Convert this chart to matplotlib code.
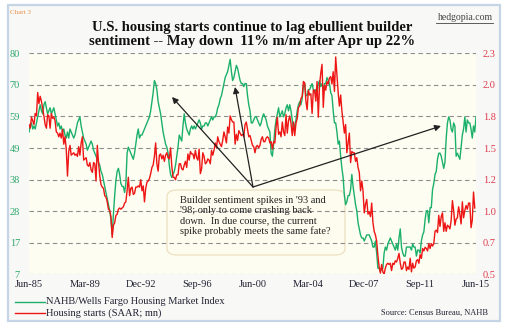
import matplotlib
matplotlib.use('Agg')
import matplotlib.pyplot as plt
import numpy as np
from matplotlib.patches import FancyBboxPatch, Rectangle
from matplotlib.lines import Line2D

# ---------------- data (monthly, Jun-1985 onward) ----------------
x_labels = ['Jun-85', 'Mar-89', 'Dec-92', 'Sep-96', 'Jun-00', 'Mar-04', 'Dec-07', 'Sep-11', 'Jun-15']
left_ticks = [7, 17, 28, 38, 49, 59, 70, 80]
right_ticks = ['0.5', '0.7', '1.0', '1.2', '1.5', '1.8', '2.0', '2.3']

# NAHB/Wells Fargo Housing Market Index, Jun-1985 .. Jun-2015
hmi = [
    54, 56, 57, 55, 56, 55, 57,                              # 1985 Jun-Dec
    59, 61, 63, 61, 60, 63, 64, 62, 60, 61, 62, 60,          # 1986
    61, 62, 60, 58, 56, 57, 55, 56, 54, 55, 53, 52,          # 1987
    54, 52, 55, 54, 53, 52, 53, 55, 57, 58, 59, 56,          # 1988
    54, 52, 51, 50, 48, 49, 50, 51, 50, 48, 47, 46,          # 1989
    45, 44, 43, 41, 40, 38, 36, 34, 32, 30, 28, 25,          # 1990
    20, 27, 33, 38, 41, 42, 40, 37, 36, 36, 34, 37,          # 1991
    47, 49, 48, 47, 46, 45, 47, 50, 53, 55, 52, 53,          # 1992
    53, 54, 55, 56, 57, 58, 59, 61, 64, 67, 71, 70,          # 1993
    68, 64, 62, 60, 57, 54, 52, 50, 49, 47, 43, 40,          # 1994
    39, 40, 41, 43, 46, 49, 53, 52, 51, 56, 60, 57,          # 1995
    55, 54, 53, 55, 56, 55, 56, 55, 56, 57, 58, 57,          # 1996
    55, 56, 56, 57, 57, 56, 57, 58, 59, 58, 59, 59,          # 1997
    60, 62, 63, 65, 66, 68, 70, 72, 73, 74, 76, 78,          # 1998
    74, 71, 72, 74, 76, 75, 73, 71, 70, 70, 69, 70,          # 1999
    70, 66, 63, 61, 57, 57, 58, 59, 59, 58, 57, 56,          # 2000
    57, 59, 60, 59, 58, 56, 55, 54, 47, 46, 50, 55,          # 2001
    58, 60, 62, 59, 60, 61, 59, 60, 62, 63, 61, 63,          # 2002
    61, 58, 55, 56, 58, 61, 63, 64, 63, 65, 69, 70,          # 2003
    66, 66, 68, 68, 69, 70, 68, 67, 68, 67, 70, 71,          # 2004
    69, 70, 68, 70, 70, 72, 71, 70, 67, 66, 61, 57,          # 2005
    57, 54, 50, 51, 46, 42, 39, 33, 30, 31, 33, 33,          # 2006
    35, 40, 36, 33, 30, 28, 24, 22, 20, 19, 19, 18,          # 2007
    19, 20, 20, 20, 19, 18, 16, 16, 18, 14, 9, 9,            # 2008
    8, 9, 9, 14, 16, 15, 17, 18, 19, 18, 17, 16,             # 2009
    15, 17, 15, 19, 22, 16, 14, 13, 13, 16, 16, 16,          # 2010
    16, 15, 17, 16, 16, 13, 15, 15, 14, 18, 20, 21,          # 2011
    25, 28, 28, 24, 29, 29, 35, 37, 40, 41, 45, 47,          # 2012
    47, 46, 44, 42, 44, 52, 57, 59, 58, 55, 54, 57,          # 2013
    56, 46, 47, 46, 45, 49, 53, 55, 59, 54, 58, 57,          # 2014
    57, 55, 52, 56, 54, 59,                                  # 2015 Jan-Jun
]

# Housing starts (SAAR; mn), Jun-1985 .. May-2015
starts = [
    1.72, 1.69, 1.78, 1.75, 1.72, 1.81, 1.79,
    1.98, 1.89, 1.95, 1.91, 1.85, 1.79, 1.72, 1.69, 1.80, 1.79, 1.69, 1.81,
    1.77, 1.78, 1.75, 1.66, 1.65, 1.62, 1.65, 1.61, 1.68, 1.56, 1.62, 1.52,
    1.30, 1.50, 1.55, 1.47, 1.48, 1.49, 1.47, 1.48, 1.46, 1.54, 1.47, 1.57,
    1.62, 1.43, 1.44, 1.45, 1.39, 1.38, 1.41, 1.35, 1.33, 1.41, 1.40, 1.26,
    1.55, 1.41, 1.30, 1.23, 1.21, 1.20, 1.14, 1.13, 1.09, 1.03, 1.02, 0.97,
    0.80, 0.90, 0.92, 0.98, 0.99, 1.03, 1.04, 1.03, 1.04, 1.05, 1.08, 1.09,
    1.18, 1.29, 1.14, 1.20, 1.21, 1.15, 1.16, 1.21, 1.21, 1.22, 1.21, 1.27,
    1.18, 1.22, 1.09, 1.20, 1.25, 1.26, 1.28, 1.32, 1.37, 1.39, 1.46, 1.57,
    1.40, 1.34, 1.47, 1.48, 1.44, 1.47, 1.42, 1.47, 1.49, 1.45, 1.44, 1.53,
    1.38, 1.29, 1.29, 1.27, 1.31, 1.31, 1.40, 1.40, 1.36, 1.35, 1.39, 1.42,
    1.37, 1.48, 1.43, 1.50, 1.48, 1.48, 1.44, 1.51, 1.45, 1.43, 1.52, 1.32,
    1.36, 1.49, 1.46, 1.40, 1.41, 1.44, 1.43, 1.40, 1.51, 1.47, 1.51, 1.57,
    1.53, 1.62, 1.58, 1.56, 1.54, 1.59, 1.66, 1.62, 1.57, 1.70, 1.65, 1.79,
    1.76, 1.74, 1.74, 1.56, 1.64, 1.59, 1.67, 1.65, 1.63, 1.64, 1.62, 1.72,
    1.74, 1.68, 1.62, 1.63, 1.59, 1.55, 1.54, 1.49, 1.54, 1.55, 1.53, 1.55,
    1.60, 1.62, 1.58, 1.58, 1.61, 1.62, 1.61, 1.57, 1.58, 1.52, 1.58, 1.57,
    1.70, 1.78, 1.64, 1.66, 1.62, 1.74, 1.66, 1.63, 1.80, 1.65, 1.75, 1.79,
    1.73, 1.63, 1.74, 1.63, 1.73, 1.77, 1.86, 1.87, 1.93, 1.95, 2.07, 2.06,
    1.91, 1.84, 2.00, 1.96, 1.97, 1.81, 2.00, 2.00, 1.91, 2.07, 1.78, 2.04,
    2.14, 2.21, 1.86, 2.04, 2.00, 2.07, 2.05, 2.10, 2.11, 2.05, 2.15, 1.99,
    2.27, 2.13, 1.98, 1.87, 1.96, 1.83, 1.74, 1.65, 1.72, 1.49, 1.57, 1.65,
    1.41, 1.50, 1.49, 1.49, 1.42, 1.45, 1.37, 1.33, 1.18, 1.26, 1.18, 1.00,
    1.07, 1.11, 0.99, 1.01, 0.97, 1.08, 0.92, 0.85, 0.82, 0.77, 0.65, 0.56,
    0.51, 0.58, 0.52, 0.50, 0.55, 0.58, 0.59, 0.58, 0.59, 0.53, 0.59, 0.58,
    0.61, 0.60, 0.63, 0.67, 0.59, 0.54, 0.55, 0.60, 0.60, 0.53, 0.56, 0.54,
    0.63, 0.52, 0.59, 0.55, 0.56, 0.61, 0.62, 0.59, 0.66, 0.63, 0.71, 0.69,
    0.72, 0.71, 0.69, 0.75, 0.71, 0.75, 0.73, 0.75, 0.85, 0.86, 0.84, 0.98,
    0.89, 0.97, 1.00, 0.85, 0.92, 0.85, 0.90, 0.89, 0.87, 0.94, 1.10, 1.02,
    0.90, 0.95, 0.96, 1.05, 0.99, 0.91, 1.09, 0.96, 1.02, 1.06, 1.03, 1.08,
    1.08, 0.88, 0.94, 1.17, 1.04,
]

# ---------------- styling ----------------
SERIF = 'Liberation Serif'
GREEN = '#1bb06a'
RED = '#ee1515'
W, H = 506, 330

def fx(px):
    return px / W

def fy(py):
    return 1 - py / H

fig = plt.figure(figsize=(W / 100, H / 100), dpi=100)
fig.patch.set_facecolor('white')

# outer frame
fig.patches.append(Rectangle((fx(8), fy(321)), fx(500) - fx(8), fy(5) - fy(321),
                             transform=fig.transFigure, facecolor='#f8f8f6',
                             edgecolor='#c6d5e6', lw=1.6, zorder=-5))

ax = fig.add_axes([fx(29), fy(274.3), fx(476) - fx(29), fy(53.3) - fy(274.3)])
ax.set_facecolor('none')
months = np.arange(len(hmi))
months_s = np.arange(len(starts))

ax.set_xlim(0, 360)
ax.set_ylim(7, 80)
ax.add_patch(Rectangle((0, 0), 1, 1, transform=ax.transAxes, facecolor='#fdfdf1',
                       edgecolor='none', lw=0, zorder=0.1))
left_pos = np.linspace(7, 80, 8)
for yv in left_pos:
    ax.axhline(yv, color='#8e8e8e', lw=0.8, linestyle=(0, (4, 3)), zorder=1)

ax.plot(months, hmi, color=GREEN, lw=1.0, zorder=2)

ax.set_yticks(left_pos)
ax.set_yticklabels([str(v) for v in left_ticks])
ax.set_xticks(np.arange(0, 361, 45))
ax.set_xticklabels(x_labels)
ax.tick_params(axis='y', length=0, pad=6.5, labelsize=7.5, labelcolor='#2ea86c')
ax.tick_params(axis='x', length=0, pad=4, labelsize=7.5, labelcolor='#222233')
for lab in ax.get_xticklabels() + ax.get_yticklabels():
    lab.set_fontfamily(SERIF)
for s in ax.spines.values():
    s.set_visible(False)

ax2 = ax.twinx()
ax2.set_ylim(0.5, 2.3)
ax2.plot(months_s, starts, color=RED, lw=1.0, zorder=2)
ax2.set_yticks(np.linspace(0.5, 2.3, 8))
ax2.set_yticklabels(right_ticks)
ax2.tick_params(axis='y', length=0, pad=5, labelsize=7.5, labelcolor='#de3a4c')
for lab in ax2.get_yticklabels():
    lab.set_fontfamily(SERIF)
for s in ax2.spines.values():
    s.set_visible(False)

# annotation box
box = FancyBboxPatch((fx(167), fy(255)), fx(345) - fx(167), fy(190) - fy(255),
                     boxstyle='round,pad=0,rounding_size=0.02',
                     transform=fig.transFigure, facecolor='#fffcee',
                     edgecolor='#e6d7b0', lw=0.9, alpha=0.75, zorder=0.8)
ax.add_patch(box)
fig.text(fx(180), fy(196), "Builder sentiment spikes in '93 and\n'98; only to come crashing back\n"
         "down.  In due course, the current\nspike probably meets the same fate?",
         ha='left', va='top', fontsize=7.5, family=SERIF, color='#222222', linespacing=1.13)

# arrows
for tip in [(172, 97), (235, 87), (441, 126)]:
    ax2.annotate('', xy=(tip[0], H - tip[1]), xytext=(253, H - 187),
                 xycoords='figure pixels', textcoords='figure pixels',
                 arrowprops=dict(arrowstyle='-|>', color='#222222', lw=0.9,
                                 mutation_scale=9, shrinkA=0, shrinkB=0))

# titles and labels
fig.text(fx(252), fy(27), 'U.S. housing starts continue to lag ebullient builder',
         ha='center', va='center', fontsize=10.5, fontweight='bold', family=SERIF, color='#111111')
fig.text(fx(252), fy(42), 'sentiment -- May down  11% m/m after Apr up 22%',
         ha='center', va='center', fontsize=10.5, fontweight='bold', family=SERIF, color='#111111')
fig.text(fx(10), fy(12), 'Chart 3', ha='left', va='center', fontsize=5, family=SERIF, color='#e8904a')
fig.text(fx(493), fy(18), 'hedgopia.com', ha='right', va='center', fontsize=7, family=SERIF, color='#444444')
fig.add_artist(Line2D([fx(436), fx(493)], [fy(22.5), fy(22.5)], color='#444444', lw=0.6,
                      transform=fig.transFigure))

# legend
fig.add_artist(Line2D([fx(15), fx(45)], [fy(301.7)] * 2, color=GREEN, lw=1.0, transform=fig.transFigure))
fig.add_artist(Line2D([fx(15), fx(45)], [fy(312.7)] * 2, color=RED, lw=1.0, transform=fig.transFigure))
fig.text(fx(46.5), fy(301.7), 'NAHB/Wells Fargo Housing Market Index', ha='left', va='center',
         fontsize=7.5, family=SERIF, color='#222233')
fig.text(fx(46.5), fy(312.7), 'Housing starts (SAAR; mn)', ha='left', va='center',
         fontsize=7.5, family=SERIF, color='#222233')
fig.text(fx(488), fy(312.5), 'Source: Census Bureau, NAHB', ha='right', va='center',
         fontsize=6, family=SERIF, color='#222233')

fig.savefig('out.png', dpi=100, facecolor='white')
